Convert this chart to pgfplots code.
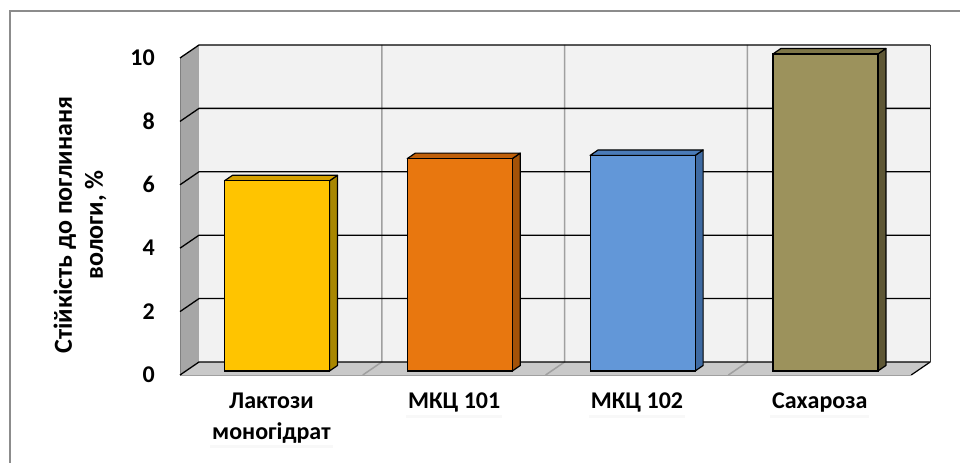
\documentclass[border=0pt]{standalone}
\usepackage{fontspec}
\setmainfont{Carlito}
\usepackage{pgfplots}
\usepackage{pgfplotstable}
\pgfplotsset{compat=1.18}
\usetikzlibrary{shadows}

% moisture uptake resistance, %
\pgfplotstableread{
idx value
0 6.0
1 6.7
2 6.8
3 10.0
}\moisturetable

\definecolor{wallback}{HTML}{F2F2F2}
\definecolor{wallside}{HTML}{A6A6A6}
\definecolor{wallfloor}{HTML}{C9C9C9}
\definecolor{vgrid}{HTML}{A0A0A0}
\definecolor{frame}{HTML}{8C8C8C}
\definecolor{yelF}{HTML}{FFC400}
\definecolor{yelT}{HTML}{D4A000}
\definecolor{yelS}{HTML}{A98700}
\definecolor{orgF}{HTML}{E8770F}
\definecolor{orgT}{HTML}{C0600A}
\definecolor{orgS}{HTML}{A35208}
\definecolor{bluF}{HTML}{6297D8}
\definecolor{bluT}{HTML}{4A7BB8}
\definecolor{bluS}{HTML}{3F6BA3}
\definecolor{oliF}{HTML}{9C925C}
\definecolor{oliT}{HTML}{7E7648}
\definecolor{oliS}{HTML}{5E5735}

\tikzset{
  bk/.style={shift={(13.4bp,9bp)}},
  fr/.style={shift={(-5.6bp,-4bp)}},
}

\newcommand\lblfont{\fontsize{24bp}{30.5bp}\selectfont\bfseries}
\newcommand\ylblfont{\fontsize{26bp}{31bp}\selectfont\bfseries}

% one 3-D column: index, front, top and side colours
\newcommand\cuboid[4]{%
  \pgfplotstablegetelem{#1}{value}\of\moisturetable
  \let\val\pgfplotsretval
  \edef\next{%
    \noexpand\fill[#4, draw=black, line width=1.2bp, line join=round]
      ([shift={(52.5bp,0bp)}]axis cs:#1,0) -- ([shift={(60.5bp,5.5bp)}]axis cs:#1,0)
      -- ([shift={(60.5bp,5.5bp)}]axis cs:#1,\val) -- ([shift={(52.5bp,0bp)}]axis cs:#1,\val) -- cycle;
    \noexpand\fill[#3, draw=black, line width=1.2bp, line join=round]
      ([shift={(-52.5bp,0bp)}]axis cs:#1,\val) -- ([shift={(-44.5bp,5.5bp)}]axis cs:#1,\val)
      -- ([shift={(60.5bp,5.5bp)}]axis cs:#1,\val) -- ([shift={(52.5bp,0bp)}]axis cs:#1,\val) -- cycle;
    \noexpand\addplot[ybar, bar width=105bp, fill=#2, draw=black, line width=1.2bp]
      coordinates {(#1,\val)};
  }\next
}

\begin{document}
\begin{tikzpicture}
\useasboundingbox (0,0) rectangle (960bp,463bp);
\fill[white] (0,0) rectangle (960bp,463bp);
\draw[frame, line width=2bp] (10bp,0bp) -- (10bp,452bp) -- (961bp,452bp);

\node[rotate=90, align=center, font=\ylblfont] at (80bp,238bp)
  {Стійкість до поглинаня\\вологи, \%};

\begin{axis}[
  at={(185.6bp,92bp)}, anchor=south west,
  width=731.2bp, height=317bp, scale only axis,
  xmin=-0.5, xmax=3.5, ymin=0, ymax=10,
  clip=false,
  axis line style={draw=none},
  major tick length=0pt,
  xtick={0,1,2,3},
  xticklabels={{Лактози\\моногідрат},{МКЦ 101},{МКЦ 102},{Сахароза}},
  xticklabel style={align=center, anchor=north, font=\lblfont,
    fill=white, inner sep=2bp, xshift=-5.6bp, yshift=-20bp,
    drop shadow={shadow xshift=0bp, shadow yshift=-3bp, opacity=0.05}},
  ytick={0,2,...,10},
  /pgf/number format/assume math mode=true,
  yticklabel style={anchor=east, font=\lblfont, inner sep=0pt,
    xshift=-30.6bp, yshift=-4bp},
]
% floor
\fill[wallfloor] ([fr]axis cs:-0.5,0) -- ([fr]axis cs:3.5,0) -- ([bk]axis cs:3.5,0) -- ([bk]axis cs:-0.5,0) -- cycle;
\draw[vgrid, line width=1bp] ([fr]axis cs:-0.5,0) -- ([fr]axis cs:3.5,0);
\draw[black, line width=1.2bp] ([fr]axis cs:3.5,0) -- ([bk]axis cs:3.5,0);
% side wall
\fill[wallside] ([fr]axis cs:-0.5,0) -- ([bk]axis cs:-0.5,0) -- ([bk]axis cs:-0.5,10) -- ([fr]axis cs:-0.5,10) -- cycle;
\draw[gray, line width=1bp] ([fr]axis cs:-0.5,0) -- ([fr]axis cs:-0.5,10);
% back wall
\fill[wallback] ([bk]axis cs:-0.5,0) rectangle ([bk]axis cs:3.5,10);
\draw[black!80, line width=1.2bp] ([bk]axis cs:3.5,0) -- ([bk]axis cs:3.5,10);
% category separators on wall and floor
\pgfplotsinvokeforeach{0.5,1.5,2.5}{
  \draw[vgrid, line width=1.5bp] ([bk]axis cs:#1,10) -- ([bk]axis cs:#1,0) -- ([fr]axis cs:#1,0);
}
% value gridlines
\pgfplotsinvokeforeach{0,2,...,10}{
  \draw[black, line width=1.3bp] ([fr]axis cs:-0.5,#1) -- ([bk]axis cs:-0.5,#1) -- ([bk]axis cs:3.5,#1);
}
% columns
\cuboid{0}{yelF}{yelT}{yelS}
\cuboid{1}{orgF}{orgT}{orgS}
\cuboid{2}{bluF}{bluT}{bluS}
\cuboid{3}{oliF}{oliT}{oliS}
\end{axis}
\end{tikzpicture}
\end{document}
